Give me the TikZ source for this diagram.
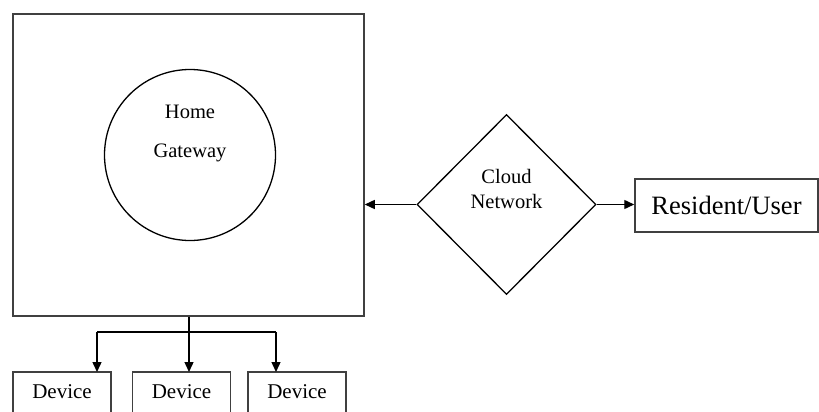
\documentclass[tikz,border=0pt]{standalone}
\usepackage{fontspec}
\setmainfont{Liberation Serif}
\usetikzlibrary{arrows.meta,shapes.geometric}

\begin{document}
\begin{tikzpicture}[x=1pt,y=-1pt,
  frame/.style={draw=black!75,line width=1.5pt},
  shapeline/.style={draw=black,line width=1.3pt},
  label/.style={font=\fontsize{20.5}{22}\selectfont,inner sep=0pt},
  conn/.style={draw=black,line width=1.4pt,-{Triangle[length=10pt,width=9pt]}},
  devbox/.style={frame,minimum width=98pt,minimum height=60pt,inner sep=0pt}]
\useasboundingbox (0,0) rectangle (819,412);
\clip (0,0) rectangle (819,412);

% home enclosure with the gateway inside
\node[frame,minimum width=351pt,minimum height=302pt,inner sep=0pt] (home) at (188.5,165) {};
\node[shapeline,circle,minimum size=171pt,inner sep=0pt] (gw) at (190,155) {};
\node[label] (gwtop) at (190,112) {Home};
\node[label] (gwbot) at (190,153) {Gateway};

% cloud network
\node[shapeline,diamond,minimum width=179pt,minimum height=180pt,inner sep=0pt,aspect=1] (cloud) at (506.5,204.5) {};
\node[label] (cltop) at (506.5,176) {Cloud};
\node[label] (clbot) at (506.5,201) {Network};

% resident / user
\node[frame,minimum width=183pt,minimum height=53pt,inner sep=0pt,
      font=\fontsize{26.5}{28}\selectfont] (user) at (726.5,205.5) {Resident/User};

% devices
\node[devbox] (d1) at (62,402) {};
\node[devbox] (d2) at (181.5,402) {};
\node[devbox] (d3) at (297,402) {};
\node[label,font=\fontsize{21}{22}\selectfont] (t1) at (62,392) {Device};
\node[label,font=\fontsize{21}{22}\selectfont] (t2) at (181.5,392) {Device};
\node[label,font=\fontsize{21}{22}\selectfont] (t3) at (297,392) {Device};

% connectors
\coordinate (split) at (189,332);
\draw[conn] (cloud.west) -- (home.east |- cloud.west);
\draw[conn] (cloud.east) -- (user.west |- cloud.east);
\draw[line width=1.4pt] (home.south -| split) -- (split);
\draw[line width=1.4pt] (97,332) -- (276,332);
\draw[conn] (97,332) -- (97,372);
\draw[conn] (split) -- (189,372);
\draw[conn] (276,332) -- (276,372);
\end{tikzpicture}
\end{document}
